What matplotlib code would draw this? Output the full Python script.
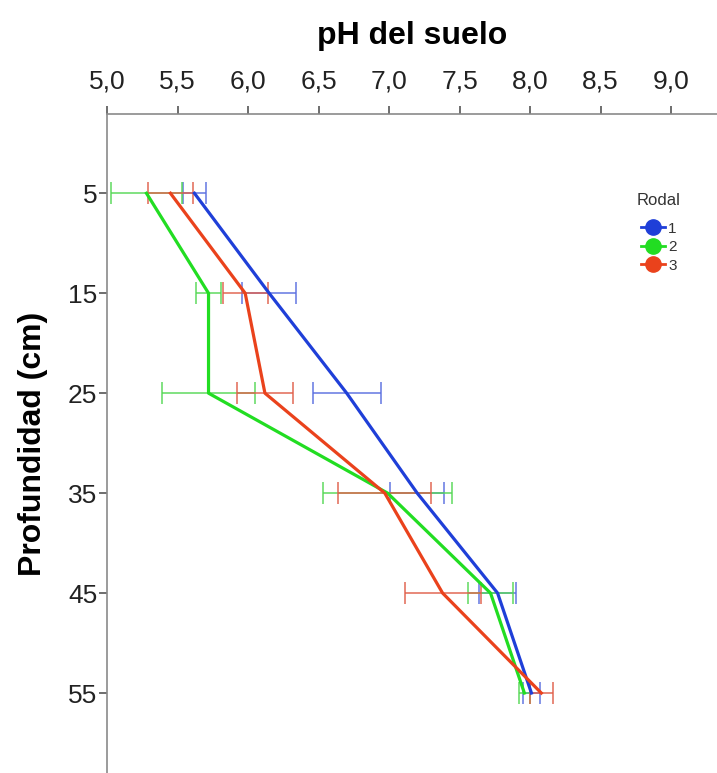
import matplotlib
matplotlib.use("Agg")
import matplotlib.pyplot as plt
from matplotlib.lines import Line2D

plt.rcParams['font.family'] = ['Liberation Sans', 'DejaVu Sans']

depths = [5, 15, 25, 35, 45, 55]
depth_ticks = [5, 15, 25, 35, 45, 55]
ph_ticks = [5.0, 5.5, 6.0, 6.5, 7.0, 7.5, 8.0, 8.5, 9.0]
ph_tick_labels = ["5,0", "5,5", "6,0", "6,5", "7,0", "7,5", "8,0", "8,5", "9,0"]

rodal_labels = ["1", "2", "3"]
ph_rodal1 = [5.62, 6.15, 6.70, 7.20, 7.77, 8.01]
err_rodal1 = [0.08, 0.19, 0.24, 0.19, 0.13, 0.06]
ph_rodal2 = [5.28, 5.72, 5.72, 6.99, 7.72, 7.96]
err_rodal2 = [0.25, 0.09, 0.33, 0.46, 0.16, 0.04]
ph_rodal3 = [5.45, 5.98, 6.12, 6.97, 7.38, 8.08]
err_rodal3 = [0.16, 0.16, 0.20, 0.33, 0.27, 0.08]

line_colors = ["#1f3fd8", "#22dd22", "#ea421c"]
err_colors = ["#5a6fe0", "#55d855", "#e0604a"]

W, H = 717, 773
TOP = 114
fig = plt.figure(figsize=(W / 100, H / 100), dpi=100)
ax = fig.add_axes([107 / W, 0, (W - 107) / W, (H - TOP) / H])

series = [(ph_rodal1, err_rodal1), (ph_rodal2, err_rodal2), (ph_rodal3, err_rodal3)]
for i, (vals, errs) in enumerate(series):
    ax.errorbar(vals, depths, xerr=errs, fmt='none', ecolor=err_colors[i],
                elinewidth=1.3, capsize=8, capthick=1.3, alpha=0.8, zorder=2)
for i, (vals, errs) in enumerate(series):
    ax.plot(vals, depths, color=line_colors[i], lw=2.3, zorder=3 + i,
            solid_joinstyle='round')

ax.set_xlim(5.0, 9.326)
ax.set_ylim(63.0, -2.93)

ax.xaxis.tick_top()
ax.xaxis.set_label_position('top')
ax.set_xticks(ph_ticks)
ax.set_xticklabels(ph_tick_labels)
ax.set_yticks(depth_ticks)
ax.set_yticklabels([str(d) for d in depth_ticks])

for side in ['right', 'bottom']:
    ax.spines[side].set_visible(False)
for side in ['left', 'top']:
    ax.spines[side].set_color('#8a8a8a')
    ax.spines[side].set_linewidth(1.2)

ax.tick_params(axis='x', direction='out', length=6, width=1.2, color='#555555',
               labelsize=19, labelcolor='#222222', pad=9)
ax.tick_params(axis='y', direction='out', length=6, width=1.2, color='#555555',
               labelsize=19, labelcolor='#222222', pad=1)

ax.set_xlabel("pH del suelo", fontsize=23, fontweight='bold', labelpad=18)
ax.set_ylabel("Profundidad (cm)", fontsize=23, fontweight='bold', labelpad=14)

handles = [Line2D([0], [0], color=line_colors[i], lw=2, marker='o', markersize=11,
                  markerfacecolor=line_colors[i], markeredgecolor=line_colors[i])
           for i in range(3)]
leg = ax.legend(handles, rodal_labels, title="Rodal", loc='upper left',
                bbox_to_anchor=(626 / W, 1 - 182 / H), bbox_transform=fig.transFigure,
                frameon=False, fontsize=11, title_fontsize=12, handlelength=1.6,
                handletextpad=0.2, labelspacing=0.3, borderpad=0.2)
leg._legend_box.align = "center"
leg._legend_box.sep = 10
for t in leg.get_texts():
    t.set_color('#333333')
leg.get_title().set_color('#333333')

fig.savefig("out.png", dpi=100)
